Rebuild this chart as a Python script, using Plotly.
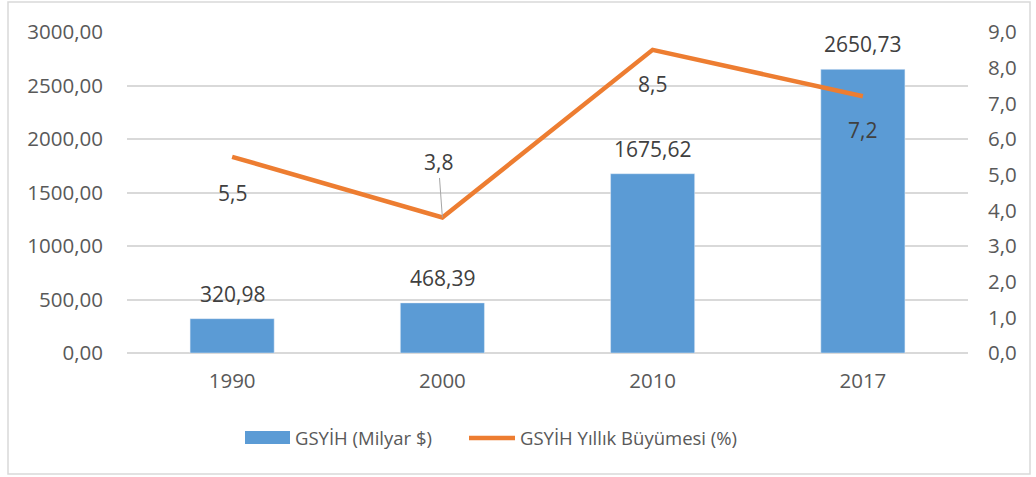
import plotly.graph_objects as go

years = ["1990", "2000", "2010", "2017"]
gdp = [320.98, 468.39, 1675.62, 2650.73]
growth = [5.5, 3.8, 8.5, 7.2]
growth_label_offset = [36, -55, 34, 34]  # pixel offsets of growth labels (positive = below)
series_names = ["GSYİH (Milyar $)", "GSYİH Yıllık Büyümesi (%)"]

gdp_labels = [f"{v:.2f}".replace(".", ",") for v in gdp]
growth_labels = [f"{v:.1f}".replace(".", ",") for v in growth]

FONT = "Open Sans"
GREY = "#595959"
DARK = "#404040"
BLUE = "#5B9BD5"
ORANGE = "#ED7D31"

# plot area in pixels (for placing the hand-drawn legend and frame)
L, R, T, B = 127, 968, 32, 353
def px(xp):
    return (xp - L) / (R - L)
def py(yp):
    return (B - yp) / (B - T)

fig = go.Figure()
fig.add_trace(go.Bar(
    x=years, y=gdp, name=series_names[0],
    marker=dict(color=BLUE), showlegend=False,
))
fig.add_trace(go.Scatter(
    x=years, y=growth, name=series_names[1], yaxis="y2",
    mode="lines", line=dict(color=ORANGE, width=4.5), showlegend=False,
))

# bar value labels
for i, (y, t) in enumerate(zip(gdp, gdp_labels)):
    fig.add_annotation(x=i, y=y, xref="x", yref="y", text=t, showarrow=False,
                       yshift=25, font=dict(size=21, color=DARK, family=FONT))

# growth value labels
for i, (y, t, off) in enumerate(zip(growth, growth_labels, growth_label_offset)):
    leader = off < 0
    fig.add_annotation(
        x=i, y=y, xref="x", yref="y2", text=t,
        showarrow=True, ax=-4 if leader else 0, ay=off,
        arrowhead=0, arrowwidth=1,
        arrowcolor="#A6A6A6" if leader else "rgba(0,0,0,0)",
        standoff=0, startstandoff=0,
        font=dict(size=21, color=DARK, family=FONT),
    )

# outer frame
fig.add_shape(type="rect", xref="paper", yref="paper",
              x0=px(8), x1=px(1030), y0=py(474), y1=py(2),
              line=dict(color="#D9D9D9", width=1.5), layer="below")

# legend (hand drawn to match the wide swatches)
fig.add_shape(type="rect", xref="paper", yref="paper",
              x0=px(245), x1=px(290), y0=py(444), y1=py(431),
              fillcolor=BLUE, line=dict(width=0))
fig.add_annotation(xref="paper", yref="paper", x=px(293), y=py(437), text=series_names[0],
                   showarrow=False, xanchor="left", yanchor="middle",
                   font=dict(size=18.5, color=GREY, family=FONT))
fig.add_shape(type="line", xref="paper", yref="paper",
              x0=px(469), x1=px(515), y0=py(438), y1=py(438),
              line=dict(color=ORANGE, width=4.5))
fig.add_annotation(xref="paper", yref="paper", x=px(518), y=py(437), text=series_names[1],
                   showarrow=False, xanchor="left", yanchor="middle",
                   font=dict(size=18.5, color=GREY, family=FONT))

fig.update_layout(
    width=1036, height=477,
    margin=dict(l=L, r=1036 - R, t=T, b=477 - B),
    paper_bgcolor="white", plot_bgcolor="white",
    separators=",.",
    bargap=0.6,
    font=dict(family=FONT, size=21, color=GREY),
    showlegend=False,
    xaxis=dict(type="category", categoryorder="array", categoryarray=years,
               range=[-0.5, len(years) - 0.5], autorange=False,
               showgrid=False, showline=False, ticks="outside", ticklen=9,
               tickcolor="rgba(0,0,0,0)", tickfont=dict(size=20.5, color=GREY)),
    yaxis=dict(range=[0, 3000], dtick=500, tickformat=".2f", showgrid=True,
               gridcolor="#D9D9D9", gridwidth=1.5, zeroline=True, zerolinecolor="#D9D9D9",
               zerolinewidth=1.5, ticks="", ticklabelstandoff=23,
               tickfont=dict(size=20.5, color=GREY)),
    yaxis2=dict(range=[0, 9], dtick=1, tickformat=".1f", overlaying="y", side="right",
                showgrid=False, zeroline=False, ticks="", ticklabelstandoff=19,
                tickfont=dict(size=20.5, color=GREY)),
)

fig.write_html("out.html", config={"displayModeBar": False},
               post_script="document.body.style.margin='0';")
